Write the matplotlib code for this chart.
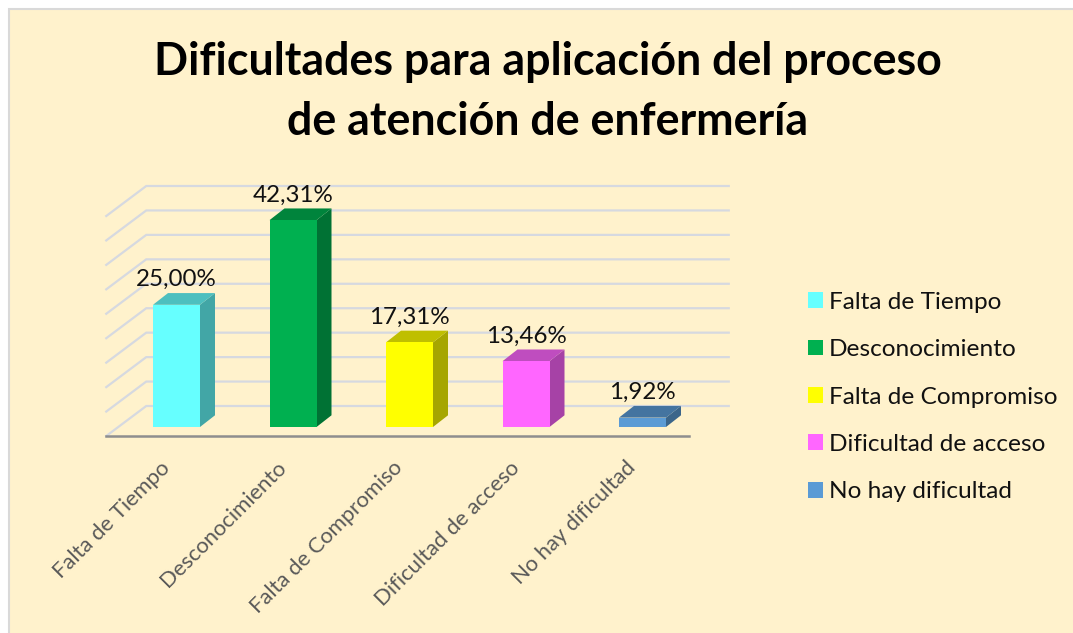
import numpy as np
import matplotlib
matplotlib.use("Agg")
import matplotlib.pyplot as plt
from matplotlib.patches import Patch, Rectangle
from matplotlib.transforms import Affine2D

categories = ["Falta de Tiempo", "Desconocimiento", "Falta de Compromiso", "Dificultad de acceso", "No hay dificultad"]
values = [25.00, 42.31, 17.31, 13.46, 1.92]
value_labels = ["25,00%", "42,31%", "17,31%", "13,46%", "1,92%"]
bar_colors = ["#66FFFF", "#00B050", "#FFFF00", "#FF66FF", "#5B9BD5"]
grid_levels = [0, 5, 10, 15, 20, 25, 30, 35, 40, 45]

W, H = 1073, 633
BG = "#FFF2CC"
GRID = "#D6D9E0"

plt.rcParams['font.family'] = ['Lato', 'DejaVu Sans']

fig = plt.figure(figsize=(W / 100, H / 100), dpi=100, facecolor="white")
fig.add_artist(Rectangle((9 / W, -0.01), 1, 1.01 - 9 / H, transform=fig.transFigure,
                         facecolor=BG, edgecolor="#D9D9D9", linewidth=1.5, zorder=-1))

# axes is the plane of the bar fronts, the rest is offset from it in pixels
ax = fig.add_axes([118.25 / W, (H - 427) / H, 582.5 / W, 220 / H])
ax.set_xlim(-0.5, 4.5)
ax.set_ylim(0, 45)
ax.patch.set_visible(False)
for s in ax.spines.values():
    s.set_visible(False)

px = (5 / 582.5, 45 / 220)


def off(x, y, dx, dy):
    return x + dx * px[0], y + dy * px[1]


def shade(c, f):
    return tuple(v * f for v in matplotlib.colors.to_rgb(c))


# back wall and left wall lines
for v in grid_levels:
    x0, y0 = off(-0.5, v, 28, 21)
    x1, y1 = off(4.5, v, 28, 21)
    x2, y2 = off(-0.5, v, -12, -9)
    ax.plot([x2, x0, x1], [y2, y0, y1], color=GRID, lw=1.6, clip_on=False, zorder=1,
            solid_joinstyle="miter")

# floor front edge
x0, y0 = off(-0.5, 0, -12, -9)
x1, y1 = off(4.5, 0, -12, -9)
ax.plot([x0, x1], [y0, y1], color="#8E8E8E", lw=1.8, clip_on=False, zorder=2)

# bars
bw = 47 / 116.5
x = np.arange(len(values))
ax.bar(x, values, width=bw, color=bar_colors, zorder=4)
for xi, v, c in zip(x, values, bar_colors):
    l, r = xi - bw / 2, xi + bw / 2
    rb = off(r, 0, 15, 11.7)
    rt = off(r, v, 15, 11.7)
    lt = off(l, v, 15, 11.7)
    ax.fill([r, rb[0], rt[0], r], [0, rb[1], rt[1], v], color=shade(c, 0.65), lw=0, zorder=3, clip_on=False)
    ax.fill([l, r, rt[0], lt[0]], [v, v, rt[1], lt[1]], color=shade(c, 0.75), lw=0, zorder=3, clip_on=False)

for xi, v, t in zip(x, values, value_labels):
    ax.annotate(t, (xi, v), xytext=(0, 25), textcoords="offset pixels", ha="center", va="center",
                fontsize=17.4, color="#111111", zorder=5, annotation_clip=False)

ax.set_yticks([])
ax.set_xticks(x)
ax.set_xticklabels(categories, rotation=45, ha="right", rotation_mode="anchor", fontsize=15.8, color="#595959")
ax.tick_params(axis="x", length=0, pad=22)
for lab in ax.get_xticklabels():
    lab.set_transform(lab.get_transform() + Affine2D().translate(-17, 0))

handles = [Patch(facecolor=c, label=n) for c, n in zip(bar_colors, categories)]
ax.legend(handles=handles, loc="center left", bbox_to_anchor=(808 / W, (H - 397) / H),
          bbox_transform=fig.transFigure, frameon=False, fontsize=17.6, handlelength=0.61, handleheight=0.61,
          handletextpad=0.25, labelspacing=1.08, borderpad=0, borderaxespad=0, labelcolor="#111111")

fig.text(548 / W, 1 - 92 / H, "Dificultades para aplicación del proceso\nde atención de enfermería",
         ha="center", va="center", fontsize=32.2, fontweight="bold", color="black", linespacing=1.53)

fig.savefig("out.png", dpi=100, facecolor=fig.get_facecolor())
